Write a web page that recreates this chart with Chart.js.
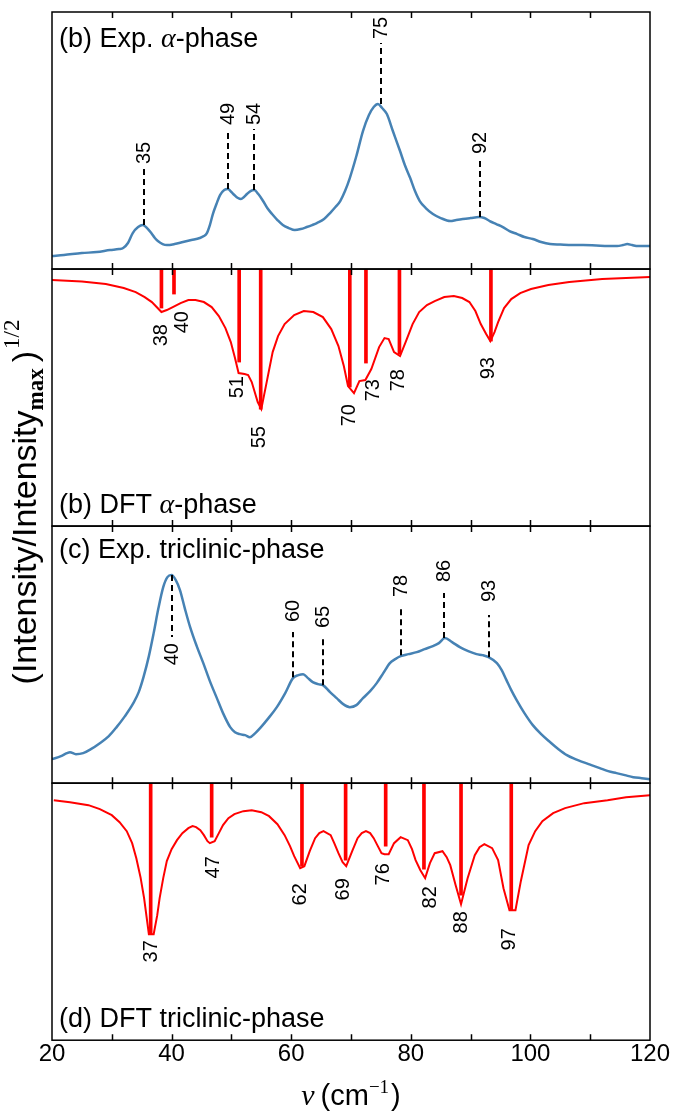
<!DOCTYPE html>
<html>
<head>
<meta charset="utf-8">
<script src="https://cdn.jsdelivr.net/npm/chart.js@4.4.1/dist/chart.umd.min.js"></script>
<style>
  html, body { margin: 0; padding: 0; background: #fff; }
</style>
</head>
<body>
<canvas id="spectra" width="673" height="1112"></canvas>
<script>
// values, wavenumber in cm^-1, intensity in arbitrary units
const expAlphaNu = [20,22,25,27.5,29.7,31.2,31.9,32.7,33.5,34.4,35.2,35.9,36.6,37.2,37.7,38.5,39.2,40.5,41.9,43.3,44.7,45.4,45.9,46.4,46.9,47.5,48.1,48.8,49.4,50,50.5,51.1,51.6,52.1,52.6,53.2,53.8,54.5,55.3,56,56.8,57.7,58.6,59.6,60.6,61.6,62.6,63.5,64.3,65.5,66.5,67.4,68.2,69,69.8,70.9,72,73,73.8,74.5,75.2,76,77,78.2,79,79.9,80.7,81.5,82.5,83.7,85,86.6,87.6,88.7,90,91.4,92.3,93.2,94.3,95.4,96.5,97.8,99,100.4,101.8,103.3,105,107,108.8,111,113,114.5,115.5,116.2,117,118,120]
const expAlphaI = [15,16,18,19,21,22,23,28,38,44,46,43,38,33,30,27,26,27,29,31,33,35,38,46,57,67,76,81,82,79,76,73,72,74,77,80,81,77,70,63,57,51,46,43,41,42,44,46,48,52,58,64,70,80,93,115,140,156,164,167,163,157,140,120,106,93,80,70,63,57,53,50,51,52,53,54,53,50,47,44,40,37,34,32,29,27,26.5,26,26,25.5,25,25,26,27,26,25,25]

const dftAlphaNu = [20,25,29,32,34,35.5,36.7,37.5,38.3,39.2,40.2,41.5,42.8,44,45.4,46.7,47.9,49,49.9,50.6,51.2,52.2,52.8,53.4,54.4,55,56,56.9,57.8,58.9,60.5,62.1,63.7,65.3,66.7,67.9,68.8,69.5,70.5,71.4,72.4,73.4,74.7,75.6,76.3,77.2,78.2,79.2,80.3,81.4,82.7,84,85.6,87.2,88.6,89.8,90.8,91.7,92.6,93.3,94,94.6,95.6,96.8,98.3,100.1,103,106.5,112,120]
const dftAlphaI = [246,244.5,242,238,234,229,224,219,214,216,219,223,226,226,224,219,210,198,184,168,153,152,151,144,124,117,147,174,190,202,211,215,214,209,197,180,160,140,133,145,146,157,179,188,187,174,170,185,202,214,221,225,229,230,228,224,215,202,192,185,194,204,218,227,233,237,241,244,247,249]

const expTriNu = [20,21.5,22.5,23,24,25.2,26.5,28,29.5,30.8,32.2,33.6,34.5,35.3,36.2,37,37.8,38.6,39.3,40,40.7,41.4,42.2,43.1,44.2,45.3,46.4,47.5,48.6,49.8,50.6,51.4,52.3,53.1,54,54.8,56.2,57.6,59,60.3,61.2,62,62.8,63.6,64.5,65.3,66.5,67.6,68.7,69.8,70.9,72,73.2,74.3,75.4,76.5,77.4,78.3,79.6,81,82.3,83.7,84.7,85.7,86.9,88.2,89.6,91,92,93,94.4,95.2,96,96.8,97.7,99,100.4,101.8,103.3,104.7,106.1,107.5,108.8,110.2,111.6,113,114.4,115.8,117.2,118.6,120]
const expTriI = [21,24,27,28,26,27,31,37,44,53,64,77,88,103,124,147,172,193,203,205,200,190,172,153,134,117,99,83,67,53,48,46,45,43,47,52,62,73,87,102,105,106,102,98,96,95,88,82,76,73,75,82,89,97,107,117,121,124,126,128,131,134,137,142,138,133,129,126,125,123,117,110,100,90,80,67,55,46,38,31,25,21,18,15,12,9,7,5,3,2,1]

const dftTriNu = [20.3,23,26.1,28,30,31.3,32.5,33.4,34.1,34.8,35.4,36.2,37,37.6,38,38.6,39.2,40,40.9,41.8,42.8,43.5,44.1,44.8,45.4,46,46.4,47.2,47.9,48.6,49.5,50.5,52,53.4,55,56.3,57.7,58.9,59.8,60.5,61.5,62.2,63.1,64,64.7,65.4,66.6,67.2,67.9,68.6,69.2,70.2,71.1,71.8,72.5,73.2,73.8,74.4,75.1,75.6,76.3,77.2,78.3,79.5,80.2,80.8,81.6,82.4,83.2,84,85.3,86,86.6,87.5,88.4,89.5,90.7,91.5,92.3,93.6,94.6,95.5,96.5,97.5,98.4,99.7,100.8,102,103.8,105.8,109,112.9,116,120]
const dftTriI = [240,238,235,231,225,218,209,197,182,163,142,106,106,125,142,162,179,191,200,207,212,214,213,210,205,199,197,199,207,215,222,226,229,230,228,224,216,205,194,184,172,174,189,202,207,209,205,197,187,178,174,189,202,207,209,207,202,195,187,186,186,197,203,200,191,180,170,162,177,187,189,183,175,155,136,162,185,193,196,192,180,152,130,130,159,195,209,219,227,232,237,240,243,245]

// peak marks on the experimental spectra (dashed line from curve to label)
const expAlphaMarks = ['35', '49', '54', '75', '92']
const expAlphaMarkNu = [35.4, 49.4, 53.8, 75.0, 91.5]
const expAlphaMarkFrom = [46, 82, 81, 167, 54]
const expAlphaMarkTo = [103, 142, 142, 228, 113]
const expAlphaMarkLabel = [107, 146, 146, 232, 117]

const expTriMarks = ['40', '60', '65', '78', '86', '93']
const expTriMarkNu = [40.0, 60.35, 65.3, 78.3, 85.6, 93.0]
const expTriMarkFrom = [205, 103, 95, 125, 142, 123]
const expTriMarkTo = [143, 148, 142, 171, 187, 165]
const expTriMarkLabel = [137, 158, 152, 183, 198, 178]

// DFT modes: stick from the top of the panel down to stickEnd
const DFT_TOP = 257
const dftAlphaModes = ['38', '40', '51', '55', '70', '73', '78', '93']
const dftAlphaStickNu = [38.3, 40.4, 51.3, 54.9, 69.8, 72.5, 78.1, 93.4]
const dftAlphaStickEnd = [218, 232, 164, 117, 139, 163, 172, 185]
const dftAlphaLabelNu = [38.3, 41.9, 51.1, 54.7, 69.7, 73.7, 77.9, 93.0]
const dftAlphaLabelTop = [202, 215, 150, 100, 122, 147, 157, 169]

const dftTriModes = ['37', '47', '62', '69', '76', '82', '88', '97']
const dftTriStickNu = [36.5, 46.7, 61.8, 69.1, 75.8, 82.2, 88.4, 96.8]
const dftTriStickEnd = [106, 203, 174, 180, 194, 171, 145, 130]
const dftTriLabelNu = [36.6, 47.0, 61.6, 68.8, 75.5, 83.3, 88.4, 96.5]
const dftTriLabelTop = [100, 184, 157, 162, 177, 154, 129, 112]

const SANS = '"Liberation Sans", Arial, sans-serif'
const SERIF = '"Liberation Serif", "DejaVu Serif", serif'
const BLUE = '#4682b4'
const RED = '#ff0000'

const pts = (xs, ys) => xs.map((x, i) => ({x: x, y: ys[i]}))
const sticks = (xs, ends) => xs.map((x, i) => ({x: x, y: [ends[i], DFT_TOP]}))

// panel titles, pieces of text in mixed fonts
const panelTitles = [
    {axis: 'yExpA', fromTop: true, off: 35, parts: [['(b) Exp. ', 'sans'], ['α', 'math'], ['-phase', 'sans']]},
    {axis: 'yDftA', fromTop: false, off: 13, parts: [['(b) DFT ', 'sans'], ['α', 'math'], ['-phase', 'sans']]},
    {axis: 'yExpT', fromTop: true, off: 32, parts: [['(c) Exp. triclinic-phase', 'sans']]},
    {axis: 'yDftT', fromTop: false, off: 13, parts: [['(d) DFT triclinic-phase', 'sans']]}
]

function drawParts(ctx, parts, x, y) {
    parts.forEach(p => {
        ctx.font = p[1]
        ctx.fillText(p[0], x, y + (p[2] || 0))
        x += ctx.measureText(p[0]).width + (p[3] || 0)
    })
}
function partsWidth(ctx, parts) {
    let w = 0
    parts.forEach(p => { ctx.font = p[1]; w += ctx.measureText(p[0]).width + (p[3] || 0) })
    return w
}

// rotated number; above = text grows upward from the anchor
function vLabel(ctx, text, px, py, above) {
    ctx.save()
    ctx.translate(px, py)
    ctx.rotate(-Math.PI / 2)
    ctx.textAlign = above ? 'left' : 'right'
    ctx.textBaseline = 'middle'
    ctx.fillText(text, 0, 0)
    ctx.restore()
}

const panelPlugin = {
    id: 'panels',
    afterDatasetsDraw(chart) {
        const ctx = chart.ctx
        const x = chart.scales.x
        const area = chart.chartArea
        ctx.save()
        ctx.fillStyle = '#000'
        ctx.font = '20px ' + SANS

        // dashed peak marks
        const marks = [
            ['yExpA', expAlphaMarks, expAlphaMarkNu, expAlphaMarkFrom, expAlphaMarkTo, expAlphaMarkLabel],
            ['yExpT', expTriMarks, expTriMarkNu, expTriMarkFrom, expTriMarkTo, expTriMarkLabel]
        ]
        marks.forEach(m => {
            const y = chart.scales[m[0]]
            m[1].forEach((txt, i) => {
                const px = Math.round(x.getPixelForValue(m[2][i]))
                ctx.strokeStyle = '#000'
                ctx.lineWidth = 2
                ctx.setLineDash([6, 4])
                ctx.beginPath()
                ctx.moveTo(px, y.getPixelForValue(m[3][i]))
                ctx.lineTo(px, y.getPixelForValue(m[4][i]))
                ctx.stroke()
                ctx.setLineDash([])
                vLabel(ctx, txt, px, y.getPixelForValue(m[5][i]), m[4][i] > m[3][i])
            })
        })

        // DFT mode labels below the curve
        const modes = [
            ['yDftA', dftAlphaModes, dftAlphaLabelNu, dftAlphaLabelTop],
            ['yDftT', dftTriModes, dftTriLabelNu, dftTriLabelTop]
        ]
        modes.forEach(m => {
            const y = chart.scales[m[0]]
            m[1].forEach((txt, i) => {
                vLabel(ctx, txt, x.getPixelForValue(m[2][i]), y.getPixelForValue(m[3][i]), false)
            })
        })

        // panel frames with inward ticks
        ctx.strokeStyle = '#000'
        ctx.lineWidth = 1.5
        ;['yExpA', 'yDftA', 'yExpT', 'yDftT'].forEach(id => {
            const y = chart.scales[id]
            ctx.strokeRect(area.left, y.top, area.right - area.left, y.bottom - y.top)
            ctx.beginPath()
            for (let v = x.min + 10; v < x.max; v += 10) {
                const px = Math.round(x.getPixelForValue(v)) + 0.5
                ctx.moveTo(px, y.top)
                ctx.lineTo(px, y.top + 6)
                ctx.moveTo(px, y.bottom)
                ctx.lineTo(px, y.bottom - 6)
            }
            ctx.stroke()
        })

        // panel titles
        const fonts = {sans: '27px ' + SANS, math: 'italic 28px ' + SERIF}
        ctx.textAlign = 'left'
        ctx.textBaseline = 'alphabetic'
        panelTitles.forEach(t => {
            const y = chart.scales[t.axis]
            const base = t.fromTop ? y.top + t.off : y.bottom - t.off
            drawParts(ctx, t.parts.map(p => [p[0], fonts[p[1]]]), area.left + 7, base)
        })

        // axis titles
        const xTitle = [['ν', 'italic 30px ' + SERIF, 0, 6], ['(cm', '29px ' + SANS], ['−1', '19px ' + SERIF, -12, 2], [')', '29px ' + SANS]]
        const xw = partsWidth(ctx, xTitle)
        drawParts(ctx, xTitle, (area.left + area.right) / 2 - xw / 2, 1105)

        const yTitle = [['(Intensity/Intensity', '34px ' + SANS], ['max', 'bold 23px ' + SERIF, 7, 6], [')', '34px ' + SANS, 0, 2], ['1/2', '23px ' + SERIF, -17]]
        const yw = partsWidth(ctx, yTitle)
        ctx.translate(36, 502)
        ctx.rotate(-Math.PI / 2)
        drawParts(ctx, yTitle, -yw / 2, 0)
        ctx.restore()
    }
}

const ctx = document.getElementById('spectra').getContext('2d')

const chart = new Chart(ctx, {
    type: 'line',
    data: {
        datasets: [
            {data: pts(expAlphaNu, expAlphaI), yAxisID: 'yExpA', borderColor: BLUE, borderWidth: 2.5, cubicInterpolationMode: 'monotone'},
            {data: pts(dftAlphaNu, dftAlphaI), yAxisID: 'yDftA', borderColor: RED, borderWidth: 2, tension: 0},
            {type: 'bar', data: sticks(dftAlphaStickNu, dftAlphaStickEnd), yAxisID: 'yDftA', backgroundColor: RED, barThickness: 3, grouped: false},
            {data: pts(expTriNu, expTriI), yAxisID: 'yExpT', borderColor: BLUE, borderWidth: 2.5, cubicInterpolationMode: 'monotone'},
            {data: pts(dftTriNu, dftTriI), yAxisID: 'yDftT', borderColor: RED, borderWidth: 2, tension: 0},
            {type: 'bar', data: sticks(dftTriStickNu, dftTriStickEnd), yAxisID: 'yDftT', backgroundColor: RED, barThickness: 3, grouped: false}
        ]
    },
    options: {
        responsive: false,
        animation: false,
        devicePixelRatio: 1,
        layout: {padding: {left: 52, right: 23, top: 12, bottom: 43}},
        elements: {point: {radius: 0}},
        plugins: {legend: {display: false}, tooltip: {enabled: false}},
        scales: {
            x: {
                type: 'linear', min: 20, max: 120, offset: false,
                grid: {display: false, drawTicks: false},
                border: {display: false},
                ticks: {
                    stepSize: 10, autoSkip: false, maxRotation: 0, padding: 0, color: '#000',
                    font: {family: SANS, size: 24},
                    callback: v => (v % 20 === 0 ? v : '')
                }
            },
            // stacked panels, listed bottom to top
            yDftT: {axis: 'y', type: 'linear', display: false, position: 'left', stack: 'panels', stackWeight: 1, min: 0, max: DFT_TOP},
            yExpT: {axis: 'y', type: 'linear', display: false, position: 'left', stack: 'panels', stackWeight: 1, min: -3, max: 254},
            yDftA: {axis: 'y', type: 'linear', display: false, position: 'left', stack: 'panels', stackWeight: 1, min: 0, max: DFT_TOP},
            yExpA: {axis: 'y', type: 'linear', display: false, position: 'left', stack: 'panels', stackWeight: 1, min: 2, max: 259}
        }
    },
    plugins: [panelPlugin]
})
</script>
</body>
</html>
